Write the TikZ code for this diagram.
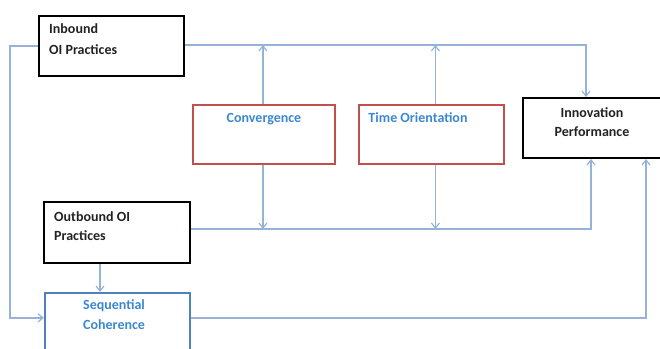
\documentclass[tikz,border=0pt]{standalone}
\usepackage{fontspec}
\setmainfont{Carlito}
\usetikzlibrary{arrows.meta,positioning}
\definecolor{linkblue}{HTML}{95B3D7}
\definecolor{framered}{HTML}{C0504D}
\definecolor{frameblue}{HTML}{4F81BD}
\definecolor{textblue}{HTML}{3B87D0}
\definecolor{textdark}{HTML}{222222}
\begin{document}
\begin{tikzpicture}[x=1pt,y=-1pt,
  box/.style={draw, line width=2pt, inner sep=0pt, rectangle},
  blackbox/.style={box, draw=black},
  redbox/.style={box, draw=framered, line width=1.8pt},
  bluebox/.style={box, draw=frameblue, line width=1.8pt},
  lbl/.style={inner sep=0pt, font=\fontsize{14}{16}\selectfont\bfseries},
  darktxt/.style={lbl, text=textdark},
  bluetxt/.style={lbl, text=textblue},
  link/.style={draw=linkblue, line width=1.2pt},
  arr/.style={link, -{Straight Barb[length=5pt,width=8pt,line width=1.2pt]}}
]
\useasboundingbox (0,0) rectangle (660,348);

% boxes, given by their top left corners
\node[blackbox, minimum width=145pt, minimum height=60pt, anchor=north west] (inb) at (38,15) {};
\node[blackbox, minimum width=146pt, minimum height=61pt, anchor=north west] (outb) at (43,201) {};
\node[bluebox, minimum width=145pt, minimum height=60pt, anchor=north west] (seq) at (44,292) {};
\node[redbox, minimum width=142pt, minimum height=59pt, anchor=north west] (conv) at (192,104) {};
\node[redbox, minimum width=145pt, minimum height=59pt, anchor=north west] (time) at (358,104) {};
\node[blackbox, minimum width=142pt, minimum height=60pt, anchor=north west] (inn) at (522,97) {};

% labels
\node[darktxt, anchor=west] (inbA) at (49,29) {Inbound};
\node[darktxt, anchor=west] (inbB) at (49,50) {OI Practices};
\node[darktxt, anchor=west] (outbA) at (54,217) {Outbound OI};
\node[darktxt, anchor=west] (outbB) at (54,236) {Practices};
\node[bluetxt, anchor=west] (seqA) at (83,306) {Sequential};
\node[bluetxt, anchor=west] (seqB) at (83,325) {Coherence};
\node[bluetxt] (convA) at (264,119) {Convergence};
\node[bluetxt] (timeA) at (418,118) {Time Orientation};
\node[darktxt] (innA) at (592,113) {Innovation};
\node[darktxt] (innB) at (592,132) {Performance};

% connectors (yshift is in page units, so positive moves up)
\coordinate (inbR) at ([yshift=1pt]inb.east);
\coordinate (innTop) at ([xshift=-8pt]inn.north);
\draw[arr] (inbR) -| (innTop);
\draw[arr] ([xshift=-1pt]conv.north) -- ([xshift=-1pt]conv.north |- inbR);
\draw[arr] ([xshift=4pt]time.north) -- ([xshift=4pt]time.north |- inbR);

\coordinate (outR) at ([yshift=3.5pt]outb.east);
\coordinate (innBotA) at ([xshift=-3pt]inn.south);
\draw[arr] (outR) -| (innBotA);
\draw[arr] ([xshift=-1pt]conv.south) -- ([xshift=-1pt]conv.south |- outR);
\draw[arr] ([xshift=4pt]time.south) -- ([xshift=4pt]time.south |- outR);

\coordinate (seqL) at ([yshift=5pt]seq.west);
\coordinate (leftRail) at (10,0);
\draw[arr] (inb.west) -- (inb.west -| leftRail) |- (seqL);
\draw[arr] ([xshift=-17pt]outb.south) -- ([xshift=-17pt]outb.south |- seq.north);

\coordinate (seqR) at ([yshift=5pt]seq.east);
\coordinate (innBotB) at ([xshift=52pt]inn.south);
\draw[arr] (seqR) -| (innBotB);
\end{tikzpicture}
\end{document}
